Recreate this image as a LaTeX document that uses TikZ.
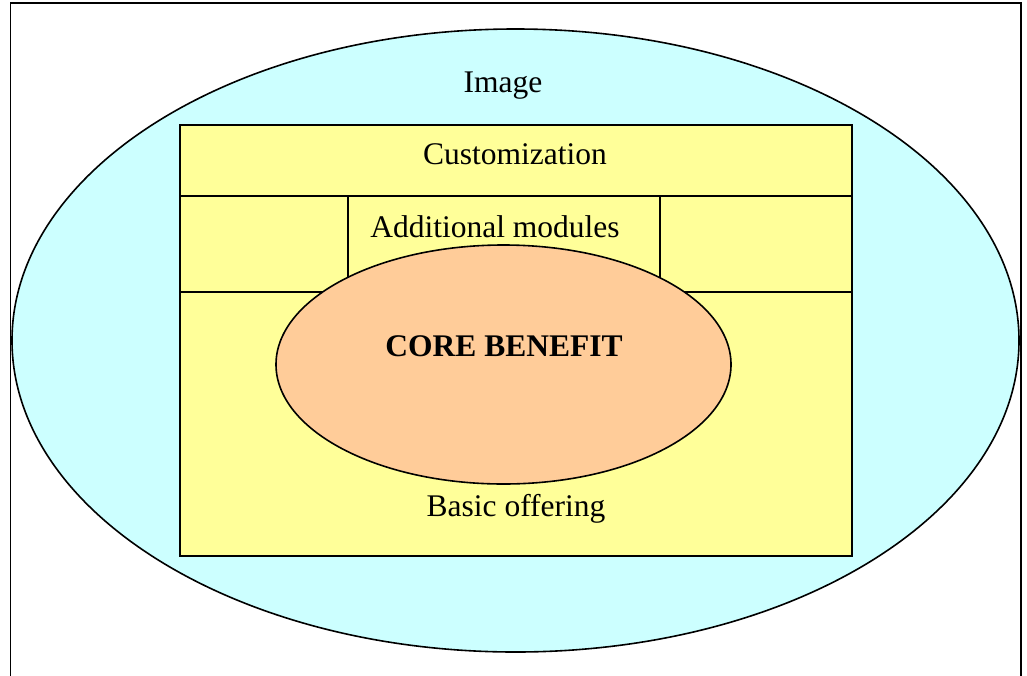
\documentclass[tikz,border=0pt]{standalone}
\usepackage{fontspec}
\setmainfont{Liberation Serif}
\usetikzlibrary{shapes.geometric}
\definecolor{imgcyan}{HTML}{CCFFFF}
\definecolor{offeryellow}{HTML}{FFFF99}
\definecolor{corepeach}{HTML}{FFCC99}
\tikzset{
  rule/.style={line width=1.6pt, draw=black},
  label/.style={font=\fontsize{31.5}{36}\selectfont, inner sep=0pt, anchor=base},
  layer/.style={ellipse, rule, inner sep=0pt}
}
\begin{document}
\begin{tikzpicture}[x=1pt,y=-1pt]
\useasboundingbox (0,0) rectangle (1027,675);
% frame, open at the bottom
\draw[rule] (10.5,680) -- (10.5,3) -- (1021,3) -- (1021,680);
% image layer
\node[layer, fill=imgcyan, minimum width=1007pt, minimum height=623pt] (image) at (515.5,340.5) {};
% basic offering block
\node[rule, fill=offeryellow, minimum width=672pt, minimum height=431pt, inner sep=0pt] (offer) at (516,340.5) {};
\coordinate (r1l) at (180,196); \coordinate (r1r) at (852,196);
\coordinate (r2l) at (180,292); \coordinate (r2r) at (852,292);
\draw[rule] (r1l) -- (r1r);
\draw[rule] (r2l) -- (r2r);
\coordinate (v1t) at (348,196); \coordinate (v1b) at (348,292);
\coordinate (v2t) at (660,196); \coordinate (v2b) at (660,292);
\draw[rule] (v1t) -- (v1b);
\draw[rule] (v2t) -- (v2b);
% core benefit
\node[layer, fill=corepeach, minimum width=455pt, minimum height=239pt] (core) at (503.5,364.5) {};
% texts
\node[label] (timage) at (503,92) {Image};
\node[label] (tcustom) at (515,164) {Customization};
\node[label] (tmods) at (495,237.5) {Additional modules};
\node[label, font=\fontsize{31.5}{36}\selectfont\bfseries] (tcore) at (504,356) {CORE BENEFIT};
\node[label] (tbasic) at (516,516) {Basic offering};
\end{tikzpicture}
\end{document}
